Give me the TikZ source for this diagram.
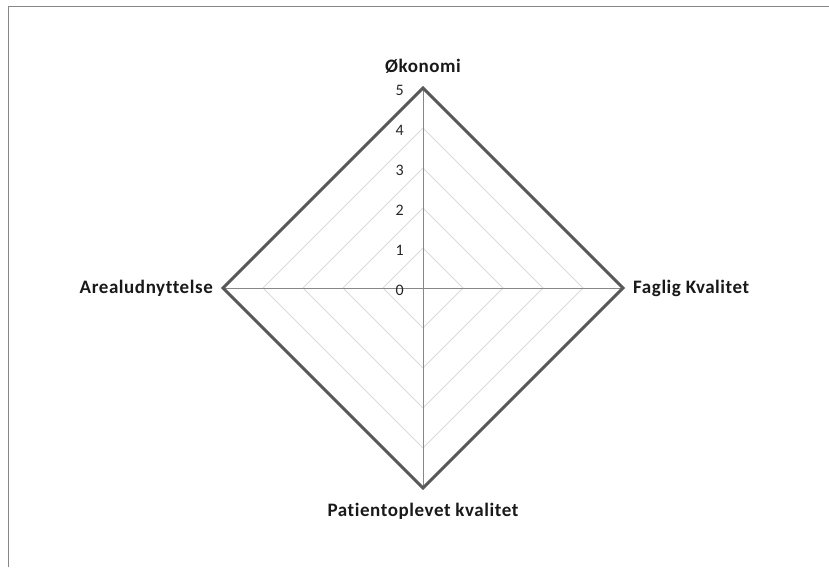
\documentclass[tikz,border=0pt]{standalone}
\usepackage{fontspec}
\setmainfont[Ligatures=CommonOff]{Carlito}
\newfontfamily\labelfont[Ligatures=CommonOff,LetterSpace=3]{Carlito}
\usetikzlibrary{calc}
\begin{document}
\begin{tikzpicture}[x=1pt,y=-1pt,
  frame/.style={draw=black!47,line width=1.5pt},
  ring/.style={draw=black!15,line width=0.9pt},
  spoke/.style={draw=black!47,line width=0.9pt},
  series/.style={draw=black!65,line width=3pt,line join=miter},
  axislabel/.style={font=\labelfont\bfseries\fontsize{19}{21}\selectfont,text=black!90,inner sep=0pt},
  ticklabel/.style={font=\fontsize{16}{18}\selectfont,text=black!85,anchor=east,inner sep=0pt}]
\useasboundingbox (0,0) rectangle (829,567);
% chart frame (left and top edges)
\draw[frame] (8.5,567) -- (8.5,6.5) -- (829,6.5);
% centre and spoke ends
\coordinate (c) at (423,288);
\coordinate (top) at (423,88);
\coordinate (right) at (623,288);
\coordinate (bottom) at (423,488);
\coordinate (left) at (223,288);
% grid rings for levels 1 to 4
\foreach \r in {40,80,120,160}
  \draw[ring] ($(c)+(0,-\r)$) -- ($(c)+(\r,0)$) -- ($(c)+(0,\r)$) -- ($(c)+(-\r,0)$) -- cycle;
% spokes
\foreach \e in {top,right,bottom,left}
  \draw[spoke] (c) -- (\e);
% series at value 5 on every axis
\draw[series] (top) -- (right) -- (bottom) -- (left) -- cycle;
% scale numbers
\foreach \v in {0,...,5}
  \node[ticklabel] (t\v) at (404,{290-40*\v}) {\v};
% axis titles
\node[axislabel,anchor=base] (lab1) at (423,73) {Økonomi};
\node[axislabel,anchor=west] (lab2) at (633,288) {Faglig Kvalitet};
\node[axislabel,anchor=north] (lab3) at (423,503) {Patientoplevet kvalitet};
\node[axislabel,anchor=east] (lab4) at (213,288) {Arealudnyttelse};
\end{tikzpicture}
\end{document}
